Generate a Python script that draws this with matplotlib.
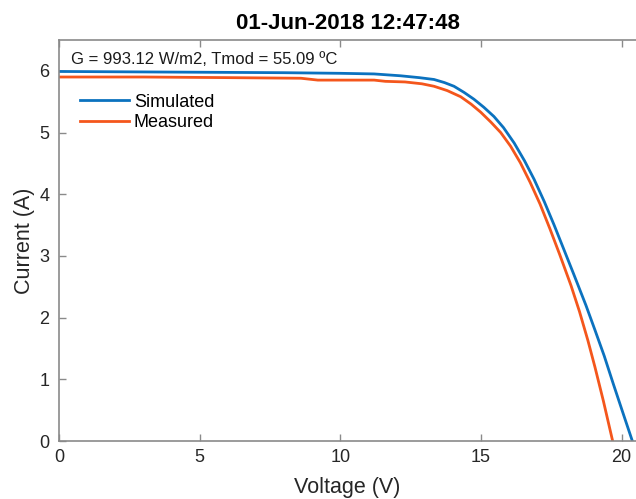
import numpy as np
import matplotlib
matplotlib.use("Agg")
import matplotlib.pyplot as plt

plt.rcParams['font.family'] = ['Liberation Sans', 'DejaVu Sans']

# simulated I-V curve (blue)
sim_v = [0, 4, 8, 10, 11.2, 12.14, 12.8, 13.33, 13.7, 14.04, 14.4, 14.75,
         15.1, 15.46, 15.8, 16.18, 16.55, 16.89, 17.25, 17.6, 17.95, 18.3,
         18.73, 19.05, 19.38, 19.7, 20.05, 20.38]
sim_i = [5.99, 5.98, 5.97, 5.96, 5.95, 5.92, 5.89, 5.86, 5.81, 5.75, 5.65,
         5.54, 5.41, 5.26, 5.08, 4.83, 4.54, 4.24, 3.88, 3.50, 3.10, 2.70,
         2.20, 1.80, 1.38, 0.93, 0.45, 0.0]

# measured I-V curve (orange)
meas_v = [0, 3, 6, 8.6, 9.2, 11.2, 11.6, 12.3, 12.9, 13.33, 13.8, 14.28,
          14.65, 14.99, 15.35, 15.7, 16.05, 16.4, 16.75, 17.1, 17.45, 17.8,
          18.2, 18.5, 18.8, 19.05, 19.35, 19.68]
meas_i = [5.90, 5.90, 5.89, 5.88, 5.85, 5.85, 5.83, 5.82, 5.79, 5.75, 5.68,
          5.58, 5.46, 5.33, 5.17, 5.00, 4.78, 4.51, 4.19, 3.84, 3.44, 3.02,
          2.52, 2.10, 1.63, 1.20, 0.65, 0.0]

title = '01-Jun-2018 12:47:48'
info = 'G = 993.12 W/m2, Tmod = 55.09 \u00baC'
xticks = [0, 5, 10, 15, 20]
yticks = [0, 1, 2, 3, 4, 5, 6]

blue = '#0b72bf'
orange = '#f4561c'
gray = '#8a8a8a'

fig = plt.figure(figsize=(6.36, 4.99), dpi=100)
ax = fig.add_axes([59 / 636, 1 - 441 / 499, 1 - 59 / 636, 401 / 499])

ax.plot(sim_v, sim_i, color=blue, lw=2.0, label='Simulated', solid_joinstyle='round')
ax.plot(meas_v, meas_i, color=orange, lw=2.0, label='Measured', solid_joinstyle='round')

ax.set_xlim(0, 20.51)
ax.set_ylim(0, 6.5)
ax.set_xticks(xticks)
ax.set_yticks(yticks)

for side in ['left', 'bottom', 'top']:
    ax.spines[side].set_color(gray)
    ax.spines[side].set_linewidth(1.2)
ax.spines['right'].set_visible(False)

ax.tick_params(direction='in', length=5, width=1.0, color=gray,
               labelsize=13, labelcolor='#262626', top=True, right=False)
ax.tick_params(axis='x', pad=6)
ax.tick_params(axis='y', pad=7)

ax.set_xlabel('Voltage (V)', fontsize=15.5, color='#262626', labelpad=8)
ax.set_ylabel('Current (A)', fontsize=15.5, color='#262626', labelpad=3)
ax.set_title(title, fontsize=16, fontweight='bold', pad=8)

ax.text(0.42, 6.19, info, fontsize=12, va='center', ha='left', color='#1a1a1a')

ax.legend(loc='upper left', bbox_to_anchor=(0.036, 0.866), frameon=False,
          fontsize=13, borderpad=0, borderaxespad=0, handlelength=2.7,
          handletextpad=0.3, labelspacing=0.18)

fig.savefig('out.png', dpi=100)
